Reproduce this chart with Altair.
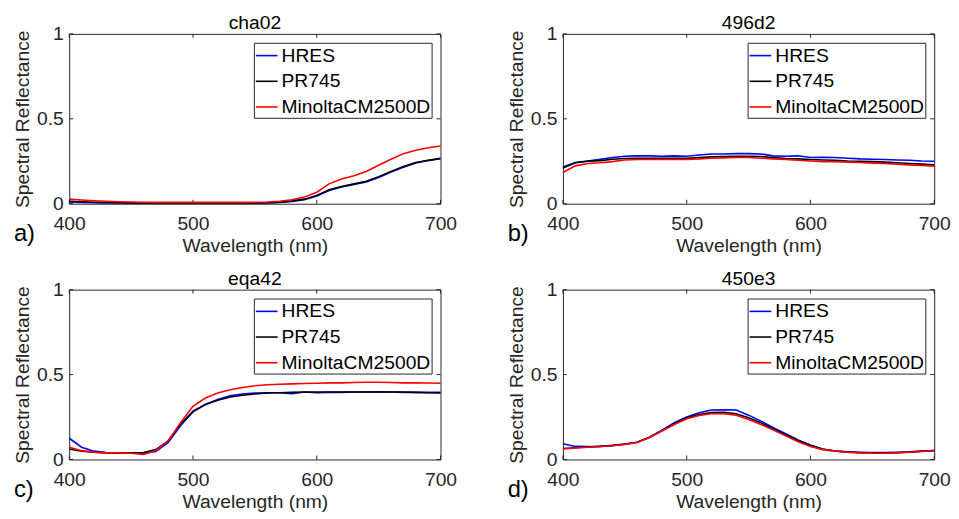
import altair as alt
import pandas as pd

WAVELENGTHS = list(range(400, 701, 10))
SERIES = ["HRES", "PR745", "MinoltaCM2500D"]
COLORS = ["#0000ff", "#000000", "#ff0000"]
X_TICKS = [400, 500, 600, 700]
Y_TICKS = [0, 0.5, 1]

# ---- panel a) cha02 ----
cha02_hres = [0.010, 0.008, 0.006, 0.005, 0.004, 0.004, 0.004, 0.004, 0.004, 0.004,
              0.004, 0.004, 0.004, 0.004, 0.004, 0.004, 0.005, 0.007, 0.013, 0.024,
              0.045, 0.078, 0.098, 0.113, 0.128, 0.155, 0.187, 0.215, 0.240, 0.254, 0.265]
cha02_pr745 = [0.015, 0.012, 0.009, 0.007, 0.006, 0.005, 0.005, 0.005, 0.005, 0.005,
               0.005, 0.005, 0.005, 0.005, 0.005, 0.005, 0.006, 0.009, 0.017, 0.027,
               0.048, 0.082, 0.102, 0.117, 0.132, 0.159, 0.190, 0.219, 0.243, 0.256, 0.268]
cha02_minolta = [0.027, 0.022, 0.018, 0.015, 0.012, 0.010, 0.009, 0.008, 0.008, 0.008,
                 0.008, 0.008, 0.008, 0.008, 0.008, 0.009, 0.010, 0.015, 0.023, 0.039,
                 0.068, 0.117, 0.146, 0.165, 0.190, 0.227, 0.262, 0.295, 0.315, 0.330, 0.340]

# ---- panel b) 496d2 ----
d496_hres = [0.217, 0.243, 0.252, 0.262, 0.272, 0.280, 0.282, 0.282, 0.280, 0.282,
             0.280, 0.287, 0.293, 0.293, 0.295, 0.295, 0.293, 0.282, 0.280, 0.282,
             0.272, 0.274, 0.272, 0.268, 0.264, 0.262, 0.260, 0.258, 0.256, 0.252, 0.250]
d496_pr745 = [0.210, 0.241, 0.250, 0.254, 0.262, 0.266, 0.267, 0.267, 0.267, 0.267,
              0.267, 0.272, 0.276, 0.278, 0.280, 0.280, 0.278, 0.272, 0.266, 0.264,
              0.260, 0.258, 0.256, 0.252, 0.250, 0.248, 0.245, 0.241, 0.237, 0.233, 0.229]
d496_minolta = [0.184, 0.223, 0.237, 0.241, 0.248, 0.258, 0.260, 0.260, 0.260, 0.260,
                0.260, 0.264, 0.268, 0.270, 0.272, 0.272, 0.268, 0.264, 0.260, 0.256,
                0.252, 0.248, 0.248, 0.245, 0.243, 0.239, 0.237, 0.233, 0.229, 0.225, 0.221]

# ---- panel c) eqa42 ----
eqa42_hres = [0.125, 0.072, 0.049, 0.041, 0.039, 0.037, 0.037, 0.047, 0.100, 0.200,
              0.280, 0.324, 0.353, 0.375, 0.386, 0.391, 0.393, 0.393, 0.387, 0.397,
              0.393, 0.395, 0.395, 0.397, 0.397, 0.399, 0.397, 0.395, 0.395, 0.395, 0.395]
eqa42_pr745 = [0.062, 0.049, 0.043, 0.039, 0.039, 0.039, 0.041, 0.058, 0.110, 0.208,
               0.285, 0.324, 0.349, 0.368, 0.378, 0.386, 0.391, 0.393, 0.395, 0.397,
               0.397, 0.397, 0.397, 0.397, 0.397, 0.397, 0.397, 0.397, 0.395, 0.393, 0.391]
eqa42_minolta = [0.072, 0.052, 0.043, 0.039, 0.039, 0.037, 0.029, 0.052, 0.110, 0.217,
                 0.313, 0.362, 0.391, 0.410, 0.424, 0.434, 0.440, 0.443, 0.445, 0.447,
                 0.449, 0.451, 0.451, 0.453, 0.455, 0.455, 0.453, 0.451, 0.451, 0.450, 0.449]

# ---- panel d) 450e3 ----
e450_hres = [0.093, 0.077, 0.076, 0.077, 0.083, 0.091, 0.102, 0.131, 0.172, 0.216,
             0.250, 0.275, 0.291, 0.292, 0.291, 0.261, 0.226, 0.187, 0.152, 0.115,
             0.085, 0.062, 0.050, 0.045, 0.043, 0.041, 0.041, 0.043, 0.045, 0.049, 0.052]
e450_pr745 = [0.065, 0.069, 0.073, 0.077, 0.082, 0.090, 0.101, 0.131, 0.170, 0.210,
              0.246, 0.265, 0.277, 0.278, 0.269, 0.246, 0.216, 0.181, 0.146, 0.111,
              0.083, 0.060, 0.050, 0.044, 0.040, 0.038, 0.038, 0.040, 0.044, 0.048, 0.053]
e450_minolta = [0.062, 0.068, 0.072, 0.076, 0.081, 0.089, 0.100, 0.129, 0.168, 0.206,
                0.240, 0.259, 0.269, 0.270, 0.261, 0.236, 0.206, 0.173, 0.139, 0.104,
                0.077, 0.058, 0.049, 0.043, 0.039, 0.037, 0.037, 0.039, 0.043, 0.047, 0.052]

PANELS = [
    ("cha02", "a)", [cha02_hres, cha02_pr745, cha02_minolta]),
    ("496d2", "b)", [d496_hres, d496_pr745, d496_minolta]),
    ("eqa42", "c)", [eqa42_hres, eqa42_pr745, eqa42_minolta]),
    ("450e3", "d)", [e450_hres, e450_pr745, e450_minolta]),
]

W, H = 376, 172
FONT = "Liberation Sans"
FS = 19.5
TICK = 4

X_ENC = alt.X("wl:Q", scale=alt.Scale(domain=[400, 700], nice=False, zero=False),
              axis=alt.Axis(values=X_TICKS, title="Wavelength (nm)", format="d"))
Y_ENC = alt.Y("val:Q", scale=alt.Scale(domain=[0, 1], nice=False),
              axis=alt.Axis(values=Y_TICKS, title="Spectral Reflectance", format="~g"))


def panel(name, label, series_values):
    rows = []
    for s, vals in zip(SERIES, series_values):
        for w, v in zip(WAVELENGTHS, vals):
            rows.append({"series": s, "wl": w, "val": v})
    df = pd.DataFrame(rows)

    lines = alt.Chart(df).mark_line(strokeWidth=1.6).encode(
        x=X_ENC,
        y=Y_ENC,
        color=alt.Color(
            "series:N",
            scale=alt.Scale(domain=SERIES, range=COLORS),
            sort=SERIES,
            legend=alt.Legend(
                title=None, orient="top-right", offset=9,
                strokeColor="#262626", fillColor="white", padding=1,
                symbolType="stroke", symbolSize=484, symbolStrokeWidth=1.6,
                labelFont=FONT, labelFontSize=FS, labelColor="black",
                labelOffset=3, rowPadding=4,
            ),
        ),
    )

    xt = pd.DataFrame({"wl": X_TICKS})
    yt = pd.DataFrame({"val": Y_TICKS})
    tick_style = dict(color="#262626", strokeWidth=1)
    bottom = alt.Chart(xt).mark_rule(**tick_style).encode(
        x=X_ENC, y=alt.value(H), y2=alt.value(H - TICK))
    top = alt.Chart(xt).mark_rule(**tick_style).encode(
        x=X_ENC, y=alt.value(0), y2=alt.value(TICK))
    left = alt.Chart(yt).mark_rule(**tick_style).encode(
        y=Y_ENC, x=alt.value(0), x2=alt.value(TICK))
    right = alt.Chart(yt).mark_rule(**tick_style).encode(
        y=Y_ENC, x=alt.value(W), x2=alt.value(W - TICK))

    lab = alt.Chart(pd.DataFrame({"label": [label]})).mark_text(
        font=FONT, fontSize=24, align="left", baseline="alphabetic", color="black"
    ).encode(text="label:N", x=alt.value(-56), y=alt.value(H + 38))

    return alt.layer(bottom, top, left, right, lines, lab).properties(
        width=W, height=H,
        title=alt.TitleParams(text=name, fontSize=FS, fontWeight="normal",
                              font=FONT, color="black", offset=-10, frame="group"),
    )


charts = [panel(n, l, sv) for n, l, sv in PANELS]

chart = alt.concat(*charts, columns=2, spacing={"row": 13, "column": 49}).resolve_scale(
    color="independent"
).resolve_legend(color="independent").properties(
    padding={"left": 4, "top": 2, "right": 0, "bottom": 0}
).configure(font=FONT).configure_view(
    stroke="#262626", strokeWidth=1
).configure_axis(
    domain=False, ticks=False, tickSize=0, grid=False,
    labelFont=FONT, labelFontSize=FS, labelColor="#262626",
    titleFont=FONT, titleFontSize=FS, titleFontWeight="normal", titleColor="#262626",
    labelFlush=False, labelOverlap=False,
).configure_axisX(labelPadding=11, titlePadding=4).configure_axisY(
    labelPadding=6, titlePadding=4
)

chart.save("out.html", embed_options={"renderer": "svg", "actions": False})
